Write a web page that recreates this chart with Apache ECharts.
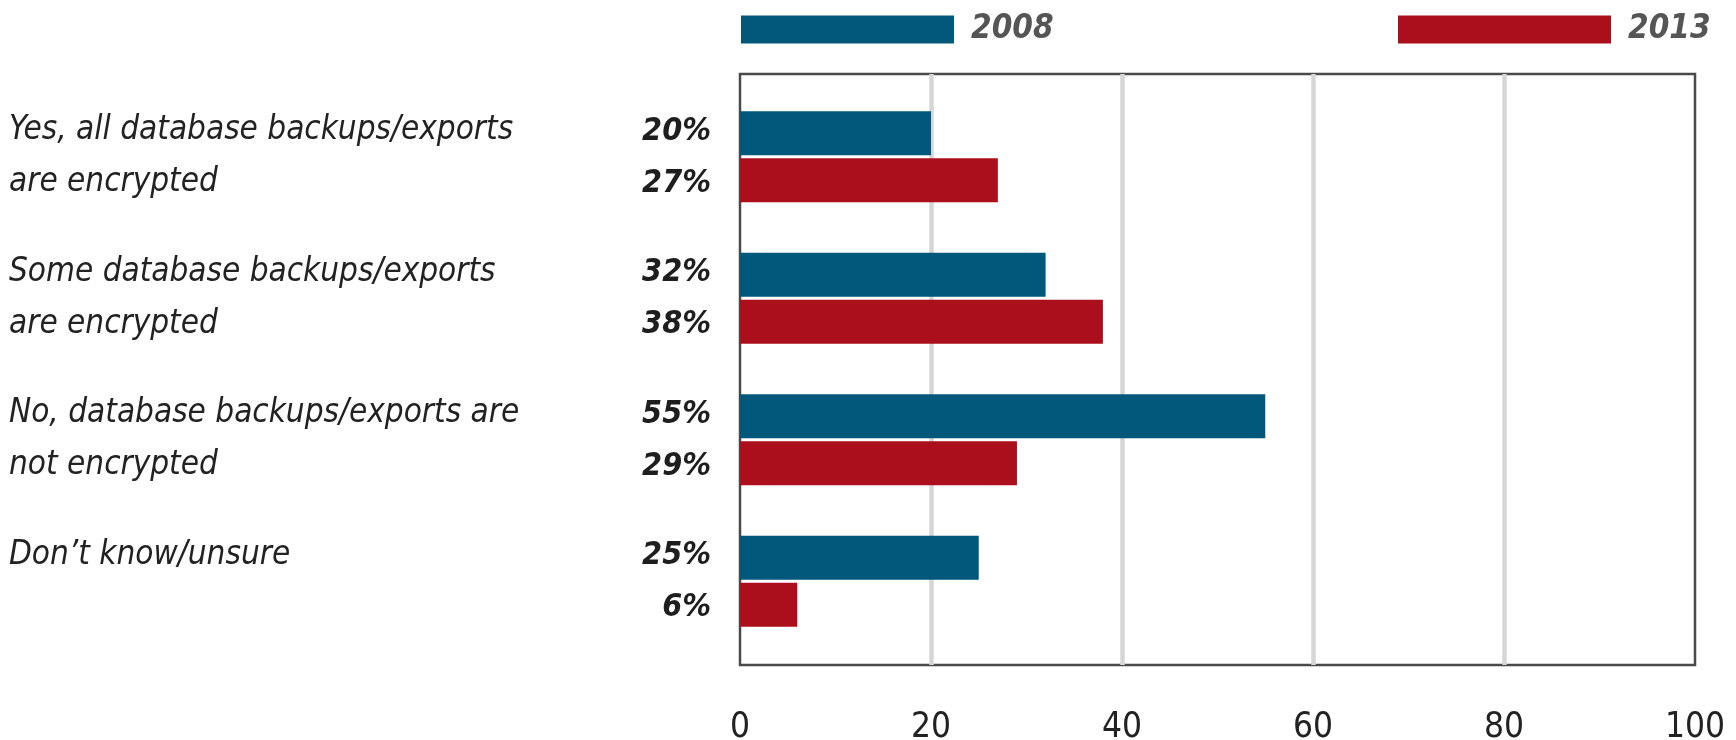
<!DOCTYPE html>
<html>
<head>
<meta charset="utf-8">
<script src="https://cdn.jsdelivr.net/npm/echarts@6/dist/echarts.min.js"></script>
<style>
  html, body { margin: 0; padding: 0; background: #ffffff; }
  #chart { width: 1736px; height: 740px; }
</style>
</head>
<body>
<div id="chart"></div>
<script>
// Survey answers (top to bottom) and the share of respondents per year, in percent
const categories = [
  'Yes, all database backups/exports\nare encrypted',
  'Some database backups/exports\nare encrypted',
  'No, database backups/exports are\nnot encrypted',
  'Don\u2019t know/unsure'
];
const years = ['2008', '2013'];
const values2008 = [20, 32, 55, 25];
const values2013 = [27, 38, 29, 6];
const xTicks = [0, 20, 40, 60, 80, 100];

const FONT = "'Liberation Sans Narrow', 'DejaVu Sans Condensed', 'Liberation Sans', sans-serif";
const BLUE = '#02587a';
const RED = '#ab0f1c';

const chart = echarts.init(document.getElementById('chart'), null, { renderer: 'canvas' });

function legendFor(name, left) {
  return {
    data: [name],
    left: left,
    top: 13,
    padding: 0,
    icon: 'rect',
    itemWidth: 213,
    itemHeight: 28,
    selectedMode: false,
    textStyle: {
      fontFamily: FONT,
      fontSize: 33,
      lineHeight: 28,
      fontStyle: 'italic',
      fontWeight: 'bold',
      color: '#555555',
      padding: [0, 0, 0, 12]
    }
  };
}

function barSeries(name, values, color, dy) {
  return {
    name: name,
    type: 'bar',
    xAxisIndex: 1,
    yAxisIndex: 1,
    data: values,
    barWidth: 44,
    barGap: '7%',
    itemStyle: { color: color },
    label: {
      show: true,
      position: 'left',
      distance: 29,
      offset: [0, dy],
      formatter: '{c}%',
      fontFamily: FONT,
      fontSize: 32,
      fontStyle: 'italic',
      fontWeight: 'bold',
      color: '#1e1e1e'
    }
  };
}

chart.setOption({
  animation: false,
  backgroundColor: '#ffffff',
  legend: [legendFor(years[0], 741), legendFor(years[1], 1398)],
  grid: [
    // framed plot area with the vertical guide lines
    { left: 740, right: 41, top: 74, bottom: 75, outerBoundsMode: 'none', show: true, borderColor: '#4a4a4a', borderWidth: 2.5, backgroundColor: 'transparent' },
    // band area holding the bar pairs
    { left: 740, right: 41, top: 86, bottom: 88, outerBoundsMode: 'none' }
  ],
  xAxis: [
    {
      gridIndex: 0,
      type: 'value',
      min: xTicks[0],
      max: xTicks[xTicks.length - 1],
      interval: xTicks[1] - xTicks[0],
      axisLine: { show: false },
      axisTick: { show: false },
      splitLine: { show: true, showMinLine: false, showMaxLine: false, lineStyle: { color: '#d6d6d6', width: 4.5 } },
      axisLabel: {
        margin: 63,
        verticalAlign: 'middle',
        fontFamily: FONT,
        fontSize: 35,
        color: '#222222'
      }
    },
    { gridIndex: 1, type: 'value', min: xTicks[0], max: xTicks[xTicks.length - 1], show: false }
  ],
  yAxis: [
    { gridIndex: 0, type: 'value', show: false },
    {
      gridIndex: 1,
      type: 'category',
      inverse: true,
      data: categories,
      axisLine: { show: false },
      axisTick: { show: false },
      axisLabel: {
        align: 'left',
        margin: 731,
        lineHeight: 52,
        fontFamily: FONT,
        fontSize: 33,
        fontStyle: 'italic',
        color: '#222222',
        formatter: function (v) {
          return v.indexOf('\n') < 0 ? v + '\n ' : v;
        }
      }
    }
  ],
  series: [
    barSeries(years[0], values2008, BLUE, -2),
    barSeries(years[1], values2013, RED, 3)
  ]
});
</script>
</body>
</html>
